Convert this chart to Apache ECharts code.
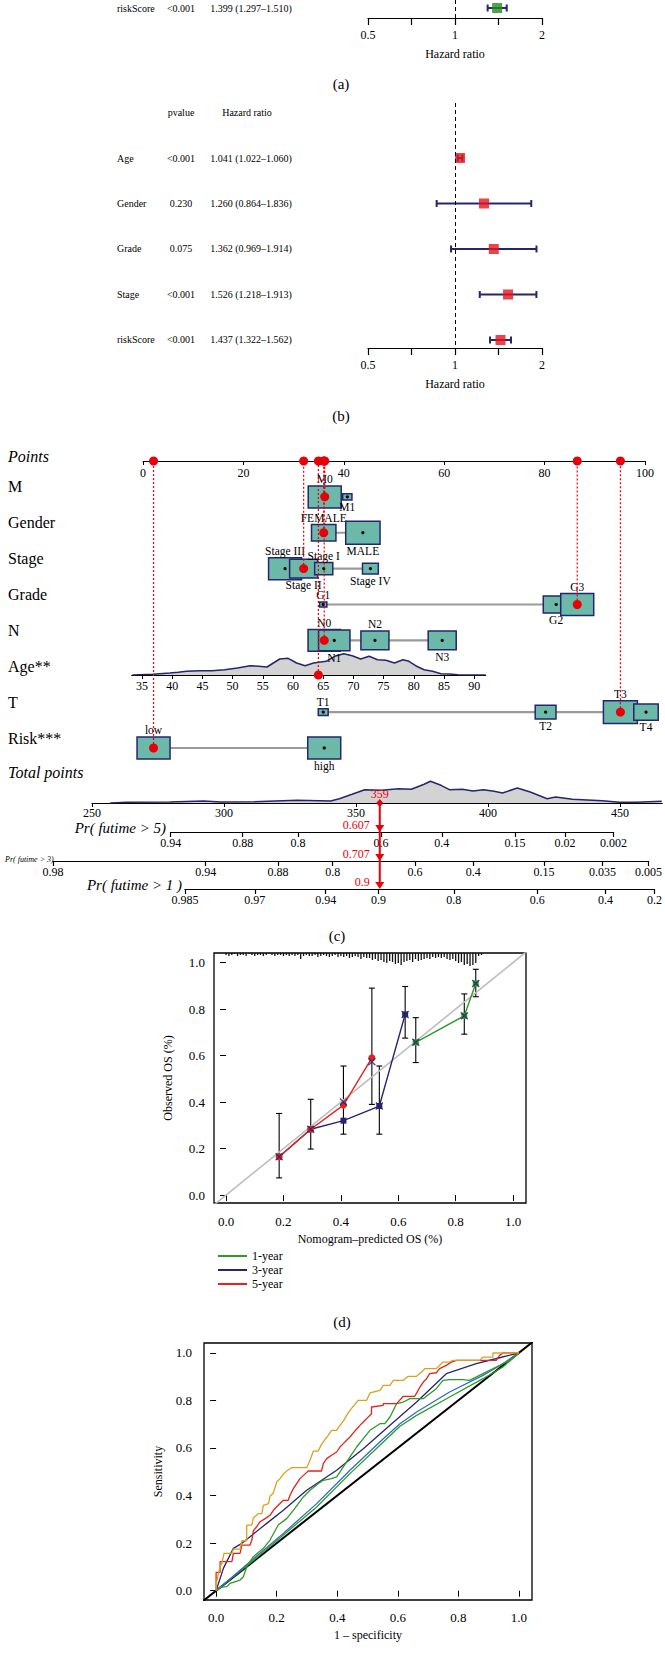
<!DOCTYPE html>
<html>
<head>
<meta charset="utf-8">
<script src="https://cdn.jsdelivr.net/npm/echarts@6.0.0/dist/echarts.min.js"></script>
<style>
html,body{margin:0;padding:0;background:#ffffff;}
#chart{width:665px;height:1659px;}
</style>
</head>
<body>
<div id="chart"></div>
<script>
// ================= DATA =================
// (a) forest plot
const aVars = ['riskScore'];
const aP = ['<0.001'];
const aHR = [1.399];
const aLow = [1.297];
const aHigh = [1.510];
// (b) forest plot
const bVars = ['Age', 'Gender', 'Grade', 'Stage', 'riskScore'];
const bP = ['<0.001', '0.230', '0.075', '<0.001', '<0.001'];
const bHR = [1.041, 1.260, 1.362, 1.526, 1.437];
const bLow = [1.022, 0.864, 0.969, 1.218, 1.322];
const bHigh = [1.060, 1.836, 1.914, 1.913, 1.562];
const hrTickValues = [0.5, Math.SQRT1_2, 1, Math.SQRT2, 2];
const hrLabelValues = [0.5, 1, 2];

// (c) nomogram
const nomoRowNames = ['Points', 'M', 'Gender', 'Stage', 'Grade', 'N', 'Age**', 'T', 'Risk***'];
const mLevels = ['M0', 'M1'];                 const mPoints = [36.2, 40.7];            const mWeight = [1.0, 0.28];
const genderLevels = ['FEMALE', 'MALE'];      const genderPoints = [36.0, 43.8];       const genderWeight = [0.74, 1.04];
const stageLevels = ['Stage III', 'Stage II', 'Stage I', 'Stage IV']; const stagePoints = [28.3, 32.0, 36.0, 45.3]; const stageWeight = [1.0, 0.85, 0.55, 0.48];
const gradeLevels = ['G1', 'G2', 'G3'];       const gradePoints = [35.9, 82.3, 86.5];  const gradeWeight = [0.22, 0.78, 1.0];
const nLevels = ['N0', 'N1', 'N2', 'N3'];     const nPoints = [36.1, 38.1, 46.2, 59.6]; const nWeight = [0.98, 0.95, 0.85, 0.85];
const tLevels = ['T1', 'T2', 'T3', 'T4'];     const tPoints = [35.9, 80.2, 95.1, 100.2]; const tWeight = [0.3, 0.63, 1.03, 0.74];
const riskLevels = ['low', 'high'];           const riskPoints = [2.1, 36.1];          const riskWeight = [1.0, 1.0];
const patientChoice = ['M0', 'FEMALE', 'Stage II', 'G3', 'N0', 'T3', 'low'];
const patientAge = 64.2;
const ageTicks = [35, 40, 45, 50, 55, 60, 65, 70, 75, 80, 85, 90];
const ageDensAge = [33.4, 36.8, 39.6, 41, 42.4, 44.5, 46.6, 48.7, 50.8, 52.9, 54.3, 55.7, 57.8, 59.2, 60.6, 62, 63.4, 65.5, 66.9, 68.4, 69.8, 71.2, 72.6, 74, 75.4, 76.8, 78.2, 79.2, 80.3, 81.7, 83.1, 84.5, 85.9, 87.3, 88.7, 91.9];
const ageDensVal = [0, 0.7, 2, 2.7, 3.7, 4.3, 4.3, 5.3, 7, 9.3, 8.7, 8, 16, 16.7, 12, 9.3, 12, 13.7, 18.7, 21.3, 19.3, 16, 18.7, 15.3, 14.7, 12, 15.3, 13.7, 9.3, 5.3, 3.7, 1.3, 1, 0.3, 0, 0];
const totalTicks = [250, 300, 350, 400, 450];
const totalDensX = [256.9, 263.3, 279.4, 292.3, 298.7, 311.5, 327.6, 340.4, 343.7, 348.5, 353.3, 359.7, 366.1, 371, 375.8, 378.2, 382.2, 385.4, 390.3, 394.3, 398.3, 402.3, 405.5, 411.1, 416, 422.4, 425.6, 432, 443.3, 449.7, 456.1, 465.8];
const totalDensVal = [0, 0.7, 1, 2, 1, 1.3, 2.7, 2, 4.3, 8.7, 13.3, 12.7, 14.3, 13.7, 18.7, 21.7, 17.7, 13.3, 13.7, 12, 13.3, 11.7, 10, 15, 11, 4.3, 6, 3.7, 2.3, 0.7, 0.7, 1.7];
const patientTotal = 359;
const patientProb = ['0.607', '0.707', '0.9'];
const pr5Labels = ['0.94', '0.88', '0.8', '0.6', '0.4', '0.15', '0.02', '0.002'];
const pr5At = [279.8, 307.1, 328, 359.5, 382.5, 410.2, 429.2, 447.5];
const pr3Labels = ['0.98', '0.94', '0.88', '0.8', '0.6', '0.4', '0.15', '0.035', '0.005'];
const pr3At = [235.2, 293.4, 320.9, 341.8, 373.1, 395.3, 422.3, 444.6, 462.1];
const pr1Labels = ['0.985', '0.97', '0.94', '0.9', '0.8', '0.6', '0.4', '0.2'];
const pr1At = [285.2, 311.7, 338.6, 358.6, 387.2, 418.8, 444.7, 463.3];

// (d) calibration
const calTicks = [0, 0.2, 0.4, 0.6, 0.8, 1.0];
const cal1Year = [[0.661, 0.657], [0.83, 0.771], [0.87, 0.91]];
const cal3Year = [[0.185, 0.165], [0.295, 0.283], [0.409, 0.32], [0.534, 0.383], [0.624, 0.777]];
const cal5Year = [[0.185, 0.165], [0.295, 0.283], [0.409, 0.387], [0.508, 0.59]];
const calCorrected = [[0.185, 0.165], [0.295, 0.283], [0.409, 0.40], [0.508, 0.573], [0.534, 0.383], [0.624, 0.777], [0.661, 0.657], [0.83, 0.771], [0.87, 0.91]];
const calBarX = [0.185, 0.295, 0.409, 0.508, 0.534, 0.624, 0.661, 0.83, 0.87];
const calBarLow = [0.074, 0.198, 0.262, 0.39, 0.262, 0.675, 0.57, 0.692, 0.853];
const calBarHigh = [0.351, 0.412, 0.555, 0.89, 0.555, 0.897, 0.763, 0.865, 0.971];
const calIdeal = [[-0.05, -0.05], [1.05, 1.05]];
const rugCounts = [2,3,2,1,3,2,2,3,1,2, 3,2,2,3,2,1,2,3,2,2, 3,2,3,2,3,2,6,3,2,3, 3,2,4,3,2,3,4,3,2,4, 3,4,3,5,4,3,4,6,4,5, 5,7,6,8,7,9,10,8,9,11, 10,12,9,8,7,9,6,8,7,6, 5,6,4,5,4,5,4,6,7,6, 8,10,9,12,11,13,12,10,3,2];

// (e) ROC
const rocTicks = [0, 0.2, 0.4, 0.6, 0.8, 1.0];
const rocGold = [[0,0],[0.002,0.038],[0.008,0.073],[0.013,0.101],[0.019,0.115],[0.026,0.157],[0.052,0.157],[0.057,0.175],[0.079,0.175],[0.085,0.21],[0.101,0.21],[0.101,0.276],[0.118,0.276],[0.123,0.306],[0.14,0.324],[0.151,0.324],[0.156,0.359],[0.173,0.366],[0.178,0.397],[0.189,0.411],[0.195,0.436],[0.2,0.457],[0.211,0.471],[0.222,0.49],[0.233,0.503],[0.249,0.517],[0.299,0.517],[0.31,0.548],[0.321,0.587],[0.337,0.587],[0.348,0.615],[0.359,0.635],[0.37,0.653],[0.381,0.674],[0.398,0.674],[0.409,0.695],[0.42,0.713],[0.431,0.737],[0.442,0.758],[0.458,0.783],[0.469,0.8],[0.497,0.8],[0.508,0.831],[0.541,0.842],[0.552,0.863],[0.574,0.863],[0.585,0.884],[0.618,0.884],[0.634,0.901],[0.662,0.901],[0.678,0.919],[0.689,0.933],[0.727,0.933],[0.738,0.947],[0.749,0.961],[0.771,0.961],[0.782,0.968],[0.87,0.968],[0.881,0.982],[0.914,0.982],[0.914,0.999],[1,1]];
const rocRed = [[0,0],[0,0.077],[0.013,0.077],[0.013,0.122],[0.052,0.122],[0.057,0.157],[0.079,0.157],[0.085,0.192],[0.112,0.192],[0.118,0.213],[0.123,0.252],[0.134,0.269],[0.145,0.29],[0.162,0.303],[0.178,0.317],[0.189,0.338],[0.205,0.359],[0.222,0.38],[0.238,0.38],[0.244,0.401],[0.255,0.429],[0.266,0.45],[0.277,0.471],[0.293,0.49],[0.304,0.503],[0.348,0.503],[0.354,0.534],[0.365,0.555],[0.381,0.569],[0.398,0.583],[0.409,0.604],[0.42,0.618],[0.431,0.632],[0.442,0.646],[0.458,0.671],[0.475,0.695],[0.486,0.709],[0.497,0.723],[0.513,0.744],[0.513,0.772],[0.552,0.779],[0.552,0.786],[0.596,0.786],[0.618,0.817],[0.656,0.817],[0.667,0.842],[0.673,0.856],[0.684,0.877],[0.695,0.891],[0.705,0.912],[0.727,0.916],[0.738,0.933],[0.76,0.947],[0.777,0.961],[0.793,0.968],[0.925,0.968],[0.936,0.989],[0.947,0.999],[1,1]];
const rocNavy = [[0,0],[0.024,0.094],[0.057,0.178],[0.085,0.199],[0.112,0.227],[0.167,0.283],[0.222,0.338],[0.299,0.422],[0.398,0.506],[0.486,0.597],[0.574,0.695],[0.662,0.793],[0.76,0.912],[0.859,0.954],[0.936,0.979],[1,1]];
const rocGreenA = [[0,0],[0.013,0.014],[0.035,0.017],[0.046,0.031],[0.079,0.045],[0.09,0.059],[0.101,0.101],[0.123,0.143],[0.156,0.178],[0.178,0.213],[0.205,0.276],[0.233,0.303],[0.255,0.338],[0.288,0.394],[0.31,0.422],[0.337,0.45],[0.354,0.464],[0.381,0.471],[0.398,0.478],[0.42,0.52],[0.442,0.562],[0.464,0.604],[0.486,0.639],[0.508,0.674],[0.541,0.702],[0.557,0.702],[0.574,0.73],[0.596,0.786],[0.618,0.793],[0.64,0.807],[0.684,0.807],[0.705,0.828],[0.727,0.849],[0.749,0.884],[0.771,0.887],[0.815,0.887],[0.837,0.884],[0.881,0.912],[0.925,0.94],[0.969,0.968],[1,1]];
const rocGreenB = [[0,0],[0.112,0.115],[0.222,0.234],[0.332,0.352],[0.442,0.492],[0.552,0.625],[0.607,0.691],[0.662,0.737],[0.771,0.814],[0.881,0.891],[0.947,0.94],[1,1]];
const rocBlue = [[0,0],[0.112,0.122],[0.222,0.241],[0.332,0.366],[0.442,0.506],[0.552,0.639],[0.607,0.702],[0.662,0.751],[0.771,0.835],[0.881,0.905],[0.947,0.954],[1,1]];
const rocDiag = [[-0.05, -0.05], [1.05, 1.05]];

// ================= STYLE / LAYOUT =================
const FONT = 'Liberation Serif';
const NAVY = '#25266e';
const RED = '#e3151b';
const TEAL = '#6cb9a9';
const PT_RED = '#e8000b';
const POINTS_Y = 461;          // y of the Points axis
const TOTAL_Y = 803;           // y of the Total points axis
const PR_Y = [832, 861, 889];  // y of the probability axes
const TP_LEFT = 92, TP_PX = 2.64; // total points: x of 250, px per point
const BOX_W = 33, BOX_H = 22;
const COL_NAME = 117, COL_P = 181, COL_HR = 251, TABLE_FS = 10;

function fontStr(size, italic) { return (italic ? 'italic ' : '') + size + 'px "' + FONT + '"'; }
function T(x, y, text, size, align, va, italic, color) {
  align = align || 'center'; va = va || 'middle';
  return {type: 'text', x: x, y: y, silent: true,
    style: {text: text, font: fontStr(size, italic), fill: color || '#000',
      align: align, verticalAlign: va, textAlign: align, textVerticalAlign: va}};
}
function nearest(arr, v) { let b = 0; for (let i = 1; i < arr.length; i++) if (Math.abs(arr[i] - v) < Math.abs(arr[b] - v)) b = i; return b; }
const tickFont = {color: '#000', fontFamily: FONT, fontSize: 12};
function hidY(gi, min, max, inverse) { return {type: 'value', gridIndex: gi, min: min, max: max, inverse: !!inverse, show: false}; }
function prGrid(at) { return {left: TP_LEFT + (at[0] - 250) * TP_PX, width: (at[at.length - 1] - at[0]) * TP_PX, height: 1}; }
function prAxis(gi, at, labels) {
  return {type: 'value', gridIndex: gi, position: 'bottom', min: at[0], max: at[at.length - 1],
    axisLine: {show: true, onZero: false, lineStyle: {color: '#000', width: 1.2}},
    axisTick: {show: true, customValues: at, length: 5, lineStyle: {color: '#000', width: 1.2}},
    axisLabel: {customValues: at, margin: 5, formatter: v => labels[nearest(at, v)], ...tickFont},
    splitLine: {show: false}};
}
function forestX(gi) {
  return {type: 'log', logBase: 2, gridIndex: gi, min: 0.5, max: 2, position: 'bottom',
    axisLine: {show: true, onZero: false, lineStyle: {color: '#000', width: 1.2}},
    axisTick: {show: true, customValues: hrTickValues, length: 7, lineStyle: {color: '#000', width: 1.2}},
    axisLabel: {customValues: hrLabelValues, margin: 11, formatter: v => String(Math.round(v * 100) / 100), ...tickFont},
    splitLine: {show: false}, minorTick: {show: false},
    name: 'Hazard ratio', nameLocation: 'middle', nameGap: 30, nameTextStyle: tickFont};
}
function forestSeries(gi, vars, ps, hr, lo, hi, color) {
  const fmt = (h, l, u) => h.toFixed(3) + ' (' + l.toFixed(3) + '\u2013' + u.toFixed(3) + ')';
  return [
    {type: 'custom', xAxisIndex: gi, yAxisIndex: gi, data: vars.map((v, i) => [1, i]), encode: {x: 0, y: 1},
      renderItem: (p, api) => {
        const i = p.dataIndex; const y = api.coord([1, i])[1];
        return {type: 'group', children: [
          T(COL_NAME, y, vars[i], TABLE_FS, 'left'), T(COL_P, y, ps[i], TABLE_FS, 'center'), T(COL_HR, y, fmt(hr[i], lo[i], hi[i]), TABLE_FS, 'center')]};
      }},
    {type: 'custom', xAxisIndex: gi, yAxisIndex: gi, data: lo.map((l, i) => [l, hi[i], i]), encode: {x: [0, 1], y: 2},
      renderItem: (p, api) => {
        const a = api.coord([api.value(0), api.value(2)]), b = api.coord([api.value(1), api.value(2)]);
        const cap = 3.5, st = {stroke: NAVY, lineWidth: 2};
        return {type: 'group', children: [
          {type: 'line', shape: {x1: a[0], y1: a[1], x2: b[0], y2: b[1]}, style: st},
          {type: 'line', shape: {x1: a[0], y1: a[1] - cap, x2: a[0], y2: a[1] + cap}, style: st},
          {type: 'line', shape: {x1: b[0], y1: b[1] - cap, x2: b[0], y2: b[1] + cap}, style: st}]};
      }},
    {type: 'scatter', xAxisIndex: gi, yAxisIndex: gi, data: hr.map((h, i) => [h, i]), symbol: 'rect', symbolSize: 10,
      itemStyle: {color: color}, z: 4,
      markLine: {silent: true, symbol: 'none', label: {show: false}, lineStyle: {color: '#000', width: 1, type: [4, 3]}, data: [{xAxis: 1}]}}
  ];
}

// ---- nomogram categorical rows ----
const catRows = [
  [1, mLevels, mPoints, mWeight], [2, genderLevels, genderPoints, genderWeight],
  [3, stageLevels, stagePoints, stageWeight], [4, gradeLevels, gradePoints, gradeWeight],
  [5, nLevels, nPoints, nWeight], [7, tLevels, tPoints, tWeight], [8, riskLevels, riskPoints, riskWeight]];
const boxData = [], boxNames = [], rangeData = [], patientData = [];
catRows.forEach(r => {
  const row = r[0], lv = r[1], pts = r[2], w = r[3];
  const order = pts.map((p, i) => i).sort((a, b) => pts[a] - pts[b]);
  order.forEach((idx, k) => { boxData.push([pts[idx], row, w[idx], k]); boxNames.push(lv[idx]); });
  rangeData.push([Math.min(...pts), row, Math.max(...pts)]);
  lv.forEach((name, i) => { if (patientChoice.indexOf(name) >= 0) patientData.push([pts[i], row]); });
});

const series = [];
// (a) and (b)
series.push(...forestSeries(0, aVars, aP, aHR, aLow, aHigh, '#23891f'));
series.push(...forestSeries(1, bVars, bP, bHR, bLow, bHigh, RED));

// (c) row labels
series.push({type: 'custom', xAxisIndex: 2, yAxisIndex: 2, data: nomoRowNames.map((n, i) => [0, i]), encode: {x: 0, y: 1},
  renderItem: (p, api) => {
    const i = p.dataIndex; const y = api.coord([0, i])[1] - (i === 0 ? 5 : 10);
    return T(8, y, nomoRowNames[i], 16, 'left', 'middle', i === 0);
  }});
// (c) grey connectors
series.push({type: 'custom', xAxisIndex: 2, yAxisIndex: 2, data: rangeData, encode: {x: [0, 2], y: 1}, z: 3,
  renderItem: (p, api) => {
    const a = api.coord([api.value(0), api.value(1)]), b = api.coord([api.value(2), api.value(1)]);
    return {type: 'line', shape: {x1: a[0], y1: a[1], x2: b[0], y2: b[1]}, style: {stroke: '#9a9a9a', lineWidth: 2.2}};
  }});
// (c) boxes
series.push({type: 'custom', xAxisIndex: 2, yAxisIndex: 2, data: boxData, encode: {x: 0, y: 1}, z: 3,
  renderItem: (p, api) => {
    const c = api.coord([api.value(0), api.value(1)]);
    const w = api.value(2), bw = BOX_W * w, bh = BOX_H * w, above = api.value(3) % 2 === 0;
    return {type: 'group', children: [
      {type: 'rect', shape: {x: c[0] - bw / 2, y: c[1] - bh / 2, width: bw, height: bh}, style: {fill: TEAL, stroke: NAVY, lineWidth: 1.5}},
      {type: 'circle', shape: {cx: c[0], cy: c[1], r: 1.6}, style: {fill: '#000'}},
      T(c[0], above ? c[1] - bh / 2 - 1 : c[1] + bh / 2 + 1, boxNames[p.dataIndex], 11.5, 'center', above ? 'bottom' : 'top')]};
  }});
// (c) patient dots and dotted lines
series.push({type: 'custom', xAxisIndex: 2, yAxisIndex: 2, data: patientData, encode: {x: 0, y: 1}, z: 5,
  renderItem: (p, api) => {
    const c = api.coord([api.value(0), api.value(1)]), t = api.coord([api.value(0), 0]);
    return {type: 'group', children: [
      {type: 'line', shape: {x1: c[0], y1: c[1], x2: t[0], y2: t[1]}, style: {stroke: PT_RED, lineWidth: 1.2, lineDash: [2, 2]}},
      {type: 'circle', shape: {cx: c[0], cy: c[1], r: 4.5}, style: {fill: PT_RED}},
      {type: 'circle', shape: {cx: t[0], cy: t[1], r: 4.5}, style: {fill: PT_RED}}]};
  }});
// (c) age density
series.push({type: 'line', xAxisIndex: 3, yAxisIndex: 3, data: ageDensAge.map((a, i) => [a, ageDensVal[i]]), symbol: 'none',
  lineStyle: {color: NAVY, width: 1.5}, areaStyle: {color: '#d3d3d3', opacity: 1}, silent: true, z: 2});
series.push({type: 'custom', xAxisIndex: 3, yAxisIndex: 3, data: [[patientAge, 0]], encode: {x: 0, y: 1}, z: 5,
  renderItem: (p, api) => {
    const c = api.coord([api.value(0), 0]);
    return {type: 'group', children: [
      {type: 'line', shape: {x1: c[0], y1: c[1], x2: c[0], y2: POINTS_Y}, style: {stroke: PT_RED, lineWidth: 1.2, lineDash: [2, 2]}},
      {type: 'circle', shape: {cx: c[0], cy: c[1], r: 4.5}, style: {fill: PT_RED}},
      {type: 'circle', shape: {cx: c[0], cy: POINTS_Y, r: 4.5}, style: {fill: PT_RED}}]};
  }});
// (c) total points density
series.push({type: 'line', xAxisIndex: 4, yAxisIndex: 4, data: totalDensX.map((a, i) => [a, totalDensVal[i]]), symbol: 'none',
  lineStyle: {color: NAVY, width: 1.5}, areaStyle: {color: '#d3d3d3', opacity: 1}, silent: true});
// (c) prediction arrow
series.push({type: 'custom', xAxisIndex: 4, yAxisIndex: 4, data: [[patientTotal, 0]], encode: {x: 0, y: 1}, z: 6,
  renderItem: (p, api) => {
    const c = api.coord([api.value(0), 0]); const x = c[0];
    const kids = [
      {type: 'line', shape: {x1: x, y1: c[1], x2: x, y2: PR_Y[2] - 4}, style: {stroke: PT_RED, lineWidth: 2}},
      {type: 'polygon', shape: {points: [[x, c[1] - 4], [x + 3.5, c[1]], [x, c[1] + 4], [x - 3.5, c[1]]]}, style: {fill: PT_RED}},
      T(x, c[1] - 3, String(api.value(0)), 12, 'center', 'bottom', false, PT_RED)];
    PR_Y.forEach((py, k) => {
      kids.push({type: 'polygon', shape: {points: [[x - 4.5, py - 7], [x + 4.5, py - 7], [x, py]]}, style: {fill: PT_RED}});
      kids.push(T(x - 10, py - 7, patientProb[k], 12, 'right', 'middle', false, PT_RED));
    });
    return {type: 'group', children: kids};
  }});

// (d) calibration
series.push({type: 'line', xAxisIndex: 8, yAxisIndex: 8, data: calIdeal, symbol: 'none', lineStyle: {color: '#bdbdbd', width: 1.6}, silent: true, clip: true});
series.push({type: 'custom', xAxisIndex: 8, yAxisIndex: 8, data: rugCounts.map((c, i) => [i / 100, c]), encode: {x: 0, y: 1},
  renderItem: (p, api) => {
    const top = api.coord([api.value(0), 1.041]);
    return {type: 'line', shape: {x1: top[0], y1: top[1], x2: top[0], y2: top[1] + api.value(1) * 1.0}, style: {stroke: '#111', lineWidth: 1.3}};
  }});
series.push({type: 'custom', xAxisIndex: 8, yAxisIndex: 8, data: calBarX.map((x, i) => [x, calBarLow[i], calBarHigh[i]]), encode: {x: 0, y: [1, 2]},
  renderItem: (p, api) => {
    const a = api.coord([api.value(0), api.value(1)]), b = api.coord([api.value(0), api.value(2)]);
    const st = {stroke: '#000', lineWidth: 1.1};
    return {type: 'group', children: [
      {type: 'line', shape: {x1: a[0], y1: a[1], x2: b[0], y2: b[1]}, style: st},
      {type: 'line', shape: {x1: a[0] - 3, y1: a[1], x2: a[0] + 3, y2: a[1]}, style: st},
      {type: 'line', shape: {x1: b[0] - 3, y1: b[1], x2: b[0] + 3, y2: b[1]}, style: st}]};
  }});
series.push({name: '1-year', type: 'line', xAxisIndex: 8, yAxisIndex: 8, data: cal1Year, symbol: 'rect', symbolSize: 6,
  itemStyle: {color: '#2f9a2a'}, lineStyle: {color: '#2f9a2a', width: 1.4}, z: 4});
series.push({name: '3-year', type: 'line', xAxisIndex: 8, yAxisIndex: 8, data: cal3Year, symbol: 'rect', symbolSize: 6,
  itemStyle: {color: NAVY}, lineStyle: {color: NAVY, width: 1.4}, z: 4});
series.push({name: '5-year', type: 'line', xAxisIndex: 8, yAxisIndex: 8, data: cal5Year, symbol: 'circle', symbolSize: 7,
  itemStyle: {color: '#e4231d'}, lineStyle: {color: '#e4231d', width: 1.4}, z: 4});
series.push({type: 'scatter', xAxisIndex: 8, yAxisIndex: 8, data: calCorrected, symbol: 'path://M0,0L10,10M10,0L0,10', symbolSize: 7,
  itemStyle: {color: 'rgba(0,0,0,0)', borderColor: NAVY, borderWidth: 1.4}, z: 5});

// (e) ROC
series.push({type: 'line', xAxisIndex: 9, yAxisIndex: 9, data: rocDiag, symbol: 'none', lineStyle: {color: '#000', width: 2}, clip: true, silent: true});
[[rocGreenB, '#2f9a2a'], [rocBlue, '#2f6db5'], [rocNavy, NAVY], [rocGreenA, '#2f9a2a'], [rocRed, '#e4231d'], [rocGold, '#d9a21d']].forEach(s => {
  series.push({type: 'line', xAxisIndex: 9, yAxisIndex: 9, data: s[0], symbol: 'none', lineStyle: {color: s[1], width: 1.3}, silent: true});
});

const boxAxisCommon = {
  axisLine: {show: false}, splitLine: {show: false},
  axisTick: {show: true, length: 6, customValues: calTicks, lineStyle: {color: '#000', width: 1}},
};

const option = {
  animation: false,
  backgroundColor: '#ffffff',
  textStyle: {fontFamily: FONT},
  legend: {data: ['1-year', '3-year', '5-year'], orient: 'vertical', left: 213, top: 1245, itemWidth: 29, itemHeight: 2, itemGap: 2,
    icon: 'rect', selectedMode: false, textStyle: {fontFamily: FONT, fontSize: 12, color: '#000'}},
  grid: [
    {left: 368, top: 0, width: 174, height: 18},
    {left: 368, top: 103, width: 174, height: 245},
    {left: 143, top: POINTS_Y, width: 502, height: 287},
    {left: 131.7, top: 645, width: 354, height: 30},
    {left: TP_LEFT, top: TOTAL_Y - 25, width: 216 * TP_PX, height: 25},
    Object.assign(prGrid(pr5At), {top: PR_Y[0] - 1}),
    Object.assign(prGrid(pr3At), {top: PR_Y[1] - 1}),
    Object.assign(prGrid(pr1At), {top: PR_Y[2] - 1}),
    {left: 214, top: 953, width: 312, height: 250, show: true, borderColor: '#000', borderWidth: 1.3, backgroundColor: 'transparent'},
    {left: 204, top: 1343, width: 328, height: 257, show: true, borderColor: '#000', borderWidth: 1.3, backgroundColor: 'transparent'}
  ],
  xAxis: [
    forestX(0),
    forestX(1),
    {type: 'value', gridIndex: 2, position: 'top', min: 0, max: 100, interval: 20,
      axisLine: {show: true, onZero: false, lineStyle: {color: '#000', width: 1.2}},
      axisTick: {show: true, inside: true, length: 4, lineStyle: {color: '#000'}},
      axisLabel: {inside: true, margin: 6, ...tickFont}, splitLine: {show: false}},
    {type: 'value', gridIndex: 3, position: 'bottom', min: 33.3, max: 91.9,
      axisLine: {show: true, onZero: false, lineStyle: {color: '#000', width: 1.2}},
      axisTick: {show: true, customValues: ageTicks, length: 4, lineStyle: {color: '#000'}},
      axisLabel: {customValues: ageTicks, margin: 5, ...tickFont}, splitLine: {show: false}},
    {type: 'value', gridIndex: 4, position: 'bottom', min: 250, max: 466,
      axisLine: {show: true, onZero: false, lineStyle: {color: '#000', width: 1.2}},
      axisTick: {show: true, customValues: totalTicks, length: 4, lineStyle: {color: '#000'}},
      axisLabel: {customValues: totalTicks, margin: 4, ...tickFont}, splitLine: {show: false}},
    prAxis(5, pr5At, pr5Labels),
    prAxis(6, pr3At, pr3Labels),
    prAxis(7, pr1At, pr1Labels),
    Object.assign({type: 'value', gridIndex: 8, position: 'bottom', min: -0.042, max: 1.045,
      axisLabel: {customValues: calTicks, margin: 12, formatter: v => v.toFixed(1), ...tickFont, fontSize: 13},
      name: 'Nomogram\u2013predicted OS (%)', nameLocation: 'middle', nameGap: 30, nameTextStyle: tickFont}, boxAxisCommon),
    Object.assign({type: 'value', gridIndex: 9, position: 'bottom', min: -0.04, max: 1.043,
      axisLabel: {customValues: rocTicks, margin: 11, formatter: v => v.toFixed(1), ...tickFont, fontSize: 13},
      name: '1 \u2013 specificity', nameLocation: 'middle', nameGap: 29, nameTextStyle: tickFont}, boxAxisCommon, {axisTick: {show: true, length: 6, customValues: rocTicks, lineStyle: {color: '#000'}}})
  ],
  yAxis: [
    hidY(0, -0.889, 1.111, true),
    hidY(1, -1.209, 4.176, true),
    hidY(2, 0, 8, true),
    hidY(3, 0, 30),
    hidY(4, 0, 25),
    hidY(5, 0, 1), hidY(6, 0, 1), hidY(7, 0, 1),
    Object.assign({type: 'value', gridIndex: 8, position: 'left', min: -0.034, max: 1.041,
      axisLabel: {customValues: calTicks, margin: 9, formatter: v => v.toFixed(1), ...tickFont, fontSize: 13},
      name: 'Observed OS (%)', nameLocation: 'middle', nameGap: 40, nameRotate: 90, nameTextStyle: tickFont}, boxAxisCommon),
    Object.assign({type: 'value', gridIndex: 9, position: 'left', min: -0.039, max: 1.041,
      axisLabel: {customValues: rocTicks, margin: 12, formatter: v => v.toFixed(1), ...tickFont, fontSize: 13},
      name: 'Sensitivity', nameLocation: 'middle', nameGap: 40, nameRotate: 90, nameTextStyle: tickFont}, boxAxisCommon, {axisTick: {show: true, length: 6, customValues: rocTicks, lineStyle: {color: '#000'}}})
  ],
  graphic: [
    T(341, 84, '(a)', 15),
    T(COL_P, 112, 'pvalue', TABLE_FS), T(COL_HR - 4, 112, 'Hazard ratio', TABLE_FS),
    T(341, 416, '(b)', 15),
    T(8, 772, 'Total points', 16, 'left', 'middle', true),
    T(166, PR_Y[0] + 3, 'Pr( futime > 5)', 15, 'right', 'bottom', true),
    T(5, PR_Y[1] - 2, 'Pr( futime > 3)', 8, 'left', 'middle', true),
    T(182, PR_Y[2] + 3, 'Pr( futime > 1 )', 15, 'right', 'bottom', true),
    T(337, 936, '(c)', 15),
    T(342, 1322, '(d)', 15)
  ],
  series: series
};
const chart = echarts.init(document.getElementById('chart'), null, {renderer: 'svg', width: 665, height: 1659});
chart.setOption(option);
</script>
</body>
</html>
